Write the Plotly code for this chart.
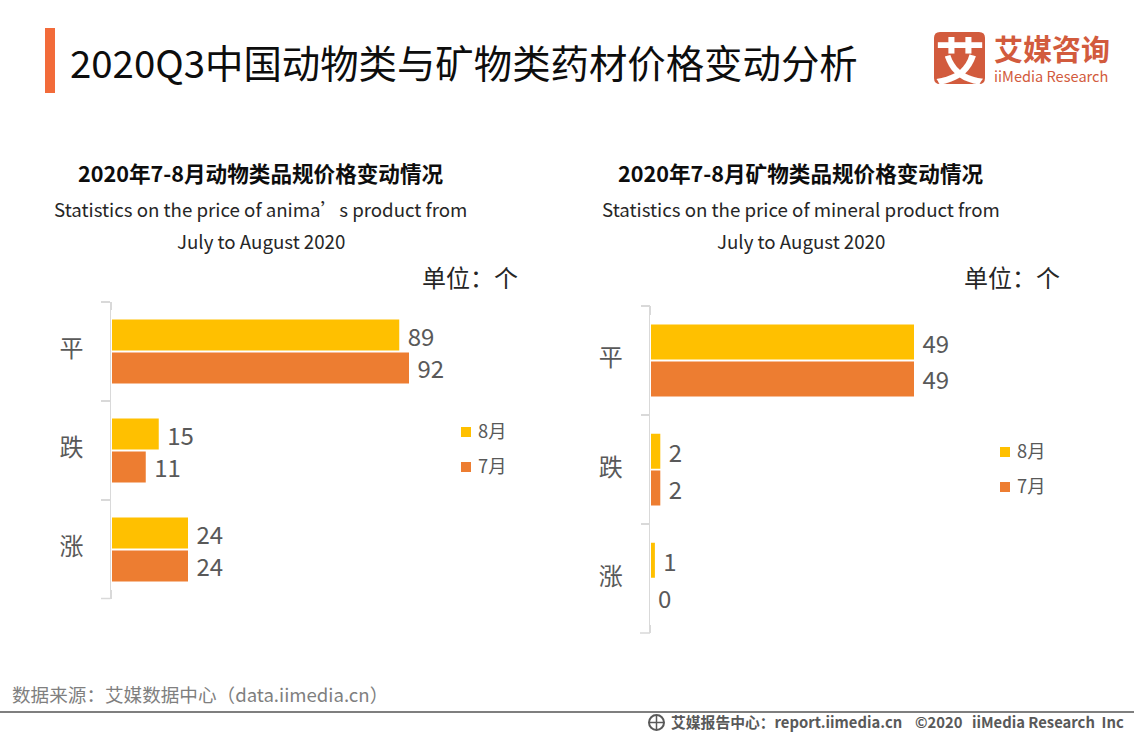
import plotly.graph_objects as go

W, H = 1134, 737
CJK = "Noto Sans CJK SC"
GRAY = "#595959"
YELLOW = "#FFC000"
ORANGE = "#ED7D31"
LOGO = "#D25B3D"
AXIS = "#D9D9D9"

categories = ["平", "跌", "涨"]
series_names = ["8月", "7月"]
animal_aug = [89, 15, 24]
animal_jul = [92, 11, 24]
mineral_aug = [49, 2, 1]
mineral_jul = [49, 2, 0]

def px_x(v): return v / W
def px_y(v): return 1 - v / H

fig = go.Figure()

def add_pair(a, b, xa, ya, width, off_a, off_b):
    for vals, name, col, off in ((a, series_names[0], YELLOW, off_a), (b, series_names[1], ORANGE, off_b)):
        fig.add_trace(go.Bar(
            y=categories, x=vals, name=name, orientation="h", xaxis=xa, yaxis=ya,
            marker=dict(color=col, line=dict(width=0)), width=width, offset=off,
            text=[f"\u00a0{v}" for v in vals], textposition="outside", cliponaxis=False,
            constraintext="none",
            textfont=dict(family=CJK, size=24, color=GRAY), showlegend=False, hoverinfo="skip",
        ))

add_pair(animal_aug, animal_jul, "x", "y", 0.313, -0.318, 0.015)
add_pair(mineral_aug, mineral_jul, "x2", "y2", 0.321, -0.326, 0.012)

axis_common = dict(showgrid=False, zeroline=False, showline=False, showticklabels=False, ticks="")
cat_common = dict(type="category", categoryorder="array", categoryarray=categories, autorange=False,
                  range=[2.5, -0.5], showgrid=False, zeroline=False, showline=True, linecolor=AXIS,
                  linewidth=1.5, ticks="outside", tickson="boundaries", ticklen=9, tickcolor=AXIS,
                  tickwidth=1.5, ticklabelstandoff=22, ticklabelshift=2,
                  tickfont=dict(family=CJK, size=24, color=GRAY))

fig.update_layout(
    width=W, height=H, margin=dict(l=0, r=0, t=0, b=0), autosize=False,
    paper_bgcolor="white", plot_bgcolor="white", barmode="overlay",
    xaxis=dict(domain=[px_x(110), px_x(500)], range=[0, 390 / 3.25], **axis_common),
    yaxis=dict(domain=[px_y(598.5), px_y(301.5)], anchor="free", position=px_x(111), **cat_common),
    xaxis2=dict(domain=[px_x(649.5), px_x(1040)], range=[0, 390.5 / 5.398], anchor="y2", **axis_common),
    yaxis2=dict(domain=[px_y(633), px_y(305.5)], anchor="free", position=px_x(650.3), **cat_common),
)

def note(x, y, text, size, color="#262626", anchor="center", bold=False, family=CJK):
    fig.add_annotation(xref="paper", yref="paper", x=px_x(x), y=px_y(y), text=f"<b>{text}</b>" if bold else text,
                       showarrow=False, xanchor=anchor, yanchor="middle", align="left" if anchor == "left" else "center",
                       font=dict(family=family, size=size, color=color), borderpad=0, borderwidth=0)

def rect(x0, y0, x1, y1, color):
    fig.add_shape(type="rect", xref="paper", yref="paper", x0=px_x(x0), x1=px_x(x1), y0=px_y(y0), y1=px_y(y1),
                  fillcolor=color, line=dict(width=0), layer="above")

def hline(x0, x1, y, color, width):
    fig.add_shape(type="line", xref="paper", yref="paper", x0=px_x(x0), x1=px_x(x1), y0=px_y(y), y1=px_y(y),
                  line=dict(color=color, width=width), layer="above")

# thin white gap between each axis line and its bars
rect(111, 310, 112, 590, "white")
rect(650, 315, 651, 625, "white")
# closing tick at the bottom of each category axis
hline(101, 110.5, 598.5, AXIS, 1.5)
hline(640, 650, 633, AXIS, 1.5)

# Title block
rect(45, 28, 55, 93, "#F26B3A")
note(70, 61, "2020Q3中国动物类与矿物类药材价格变动分析", 38.4, "#0D0D0D", "left")

# Panel headings
note(261, 172, "2020年7-8月动物类品规价格变动情况", 21.6, "#0D0D0D", bold=True)
note(260, 209, "Statistics on the price of anima’s product from", 18.7, "#262626")
note(261, 241, "July to August 2020", 18.7, "#262626")
note(470, 276, "单位：个", 24, "#262626")

note(801, 172, "2020年7-8月矿物类品规价格变动情况", 21.6, "#0D0D0D", bold=True)
note(801, 209, "Statistics on the price of mineral product from", 18.7, "#262626")
note(801, 241, "July to August 2020", 18.7, "#262626")
note(1012, 276, "单位：个", 24, "#262626")

# Legends
for lx, ly1, ly2 in ((461, 432, 467), (1000, 452, 487)):
    for ly, col, name in ((ly1, YELLOW, series_names[0]), (ly2, ORANGE, series_names[1])):
        rect(lx, ly - 5, lx + 10, ly + 5, col)
        note(lx + 17, ly - 2, name, 18.3, GRAY, "left")

# Logo
fig.add_shape(type="path", xref="paper", yref="paper", layer="above", fillcolor=LOGO, line=dict(width=0),
              path=" ".join([
                  f"M{px_x(940)},{px_y(32)}", f"L{px_x(979)},{px_y(32)}",
                  f"Q{px_x(985)},{px_y(32)} {px_x(985)},{px_y(38)}", f"L{px_x(985)},{px_y(78)}",
                  f"Q{px_x(985)},{px_y(84)} {px_x(979)},{px_y(84)}", f"L{px_x(940)},{px_y(84)}",
                  f"Q{px_x(934)},{px_y(84)} {px_x(934)},{px_y(78)}", f"L{px_x(934)},{px_y(38)}",
                  f"Q{px_x(934)},{px_y(32)} {px_x(940)},{px_y(32)}", "Z"]))
note(960, 58, "艾", 50, "white", bold=True)
note(994, 57,
     "<span style='font-size:29px'><b>艾媒咨询</b></span><br>"
     "<span style='font-size:14.6px'>iiMedia Research</span>",
     16, LOGO, "left")

# Footer
hline(0, W, 712, "#7F7F7F", 2)
note(12, 693, "数据来源：艾媒数据中心（data.iimedia.cn）", 18.6, "#7F7F7F", "left")
note(671, 721, "艾媒报告中心：report.iimedia.cn", 14.8, GRAY, "left", bold=True)
note(915, 721, "©2020", 14.8, GRAY, "left", bold=True)
note(1124, 721, "iiMedia Research  Inc", 14.8, GRAY, "right", bold=True)
fig.add_shape(type="circle", xref="paper", yref="paper", x0=px_x(649), x1=px_x(664), y0=px_y(715), y1=px_y(730),
              line=dict(color=GRAY, width=2), layer="above")
fig.add_shape(type="line", xref="paper", yref="paper", x0=px_x(656.5), x1=px_x(656.5), y0=px_y(715), y1=px_y(730),
              line=dict(color=GRAY, width=1.5), layer="above")
hline(649, 664, 722.5, GRAY, 1.5)

fig.write_html("out.html", post_script="document.body.style.margin='0';", config={"displayModeBar": False})
